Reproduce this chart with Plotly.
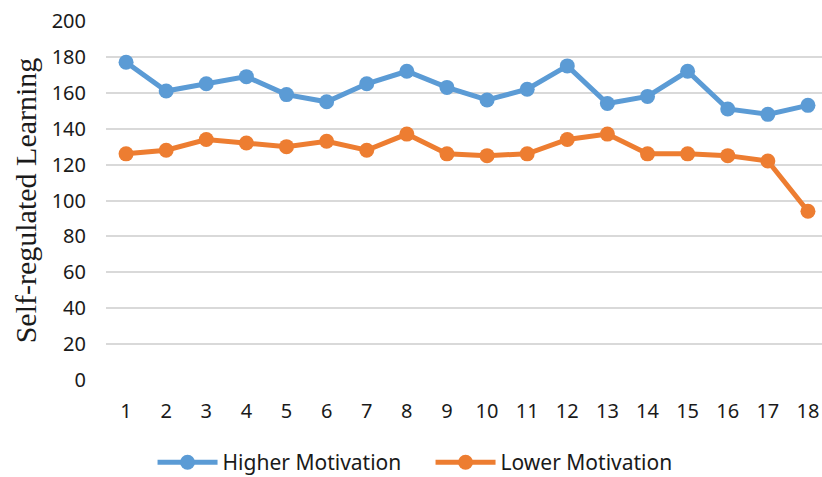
import plotly.graph_objects as go

categories = list(range(1, 19))
higher = [177, 161, 165, 169, 159, 155, 165, 172, 163, 156, 162, 175, 154, 158, 172, 151, 148, 153]
lower = [126, 128, 134, 132, 130, 133, 128, 137, 126, 125, 126, 134, 137, 126, 126, 125, 122, 94]
y_ticks = list(range(0, 201, 20))

fig = go.Figure()
fig.add_trace(go.Scatter(x=categories, y=higher, name="Higher Motivation", mode="lines+markers",
                         line=dict(color="#5B9BD5", width=5), marker=dict(size=15, color="#5B9BD5")))
fig.add_trace(go.Scatter(x=categories, y=lower, name="Lower Motivation", mode="lines+markers",
                         line=dict(color="#ED7D31", width=5), marker=dict(size=15, color="#ED7D31")))

fig.update_layout(
    width=822, height=477,
    margin=dict(l=106, r=0, t=21, b=97, autoexpand=False),
    paper_bgcolor="white", plot_bgcolor="white",
    font=dict(family="Noto Sans", size=20, color="#1a1a1a"),
    showlegend=True,
    legend=dict(orientation="h", x=0.065, xanchor="left", y=-0.287, yanchor="bottom",
                font=dict(size=21), tracegroupgap=0, itemwidth=60, entrywidth=203,
                entrywidthmode="pixels"),
)
fig.update_xaxes(range=[0.5, 18.35], tickmode="array", tickvals=categories,
                 ticktext=[str(c) for c in categories], showgrid=False, zeroline=False,
                 showline=False, ticks="", ticklabelstandoff=17, automargin=False)
fig.update_yaxes(range=[0, 200], tickvals=y_ticks, showgrid=True, gridcolor="#d9d9d9", gridwidth=1.5,
                 zeroline=False, showline=False, ticks="", ticklabelstandoff=19, automargin=False,
                 title=dict(text="Self-regulated Learning", font=dict(family="Liberation Serif", size=30, color="#1a1a1a"),
                            standoff=6))

fig.write_html("out.html", config={"displayModeBar": False},
               post_script="document.body.style.margin='0';document.body.style.overflow='hidden';")
